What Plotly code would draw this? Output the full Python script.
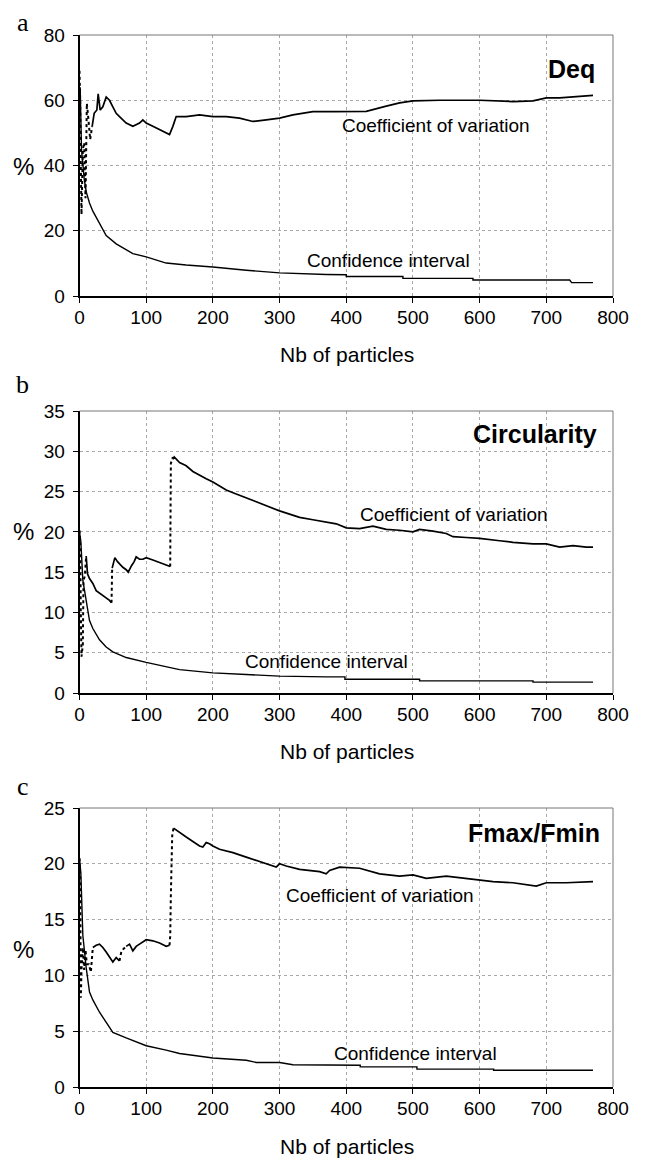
import plotly.graph_objects as go

# page has an 8px body margin; the figure is sized to fill the rest of the window
PAGE_W, PAGE_H = 645, 1161
OFF = 8
W, H = PAGE_W - OFF, PAGE_H - OFF

# ---------------- data ----------------
# Panel a : Deq
a_cv_dot_x = [0, 1, 2, 3, 5, 7, 9, 11, 13, 16, 19]
a_cv_dot_y = [69, 60, 40, 25, 45, 47, 30, 59, 55, 48, 52]
a_cv_x = [19, 22, 26, 28, 31, 35, 40, 45, 50, 55, 60, 70, 80, 90, 95, 100, 110, 120, 130, 135,
          140, 145, 160, 180, 200, 220, 240, 260, 280, 300, 320, 350, 380, 430, 460, 480, 500,
          540, 600, 650, 680, 700, 720, 740, 770]
a_cv_y = [52, 56, 57, 62, 57, 58, 61, 60, 58, 56, 55, 53, 52, 53, 54, 53, 52, 51, 50, 49.5,
          52, 55, 55, 55.5, 55, 55, 54.5, 53.5, 54, 54.5, 55.5, 56.5, 56.5, 56.6, 58.2, 59.2, 59.8,
          60, 60, 59.6, 59.8, 60.7, 60.7, 61, 61.5]
a_ci_x = [1, 2, 3, 5, 7, 10, 15, 20, 30, 40, 55, 80, 100, 130, 160, 200, 250, 300, 370, 400,
          400, 485, 485, 590, 590, 735, 738, 770]
a_ci_y = [64, 52, 45, 40.5, 36, 32, 28.5, 26, 22, 18.5, 16, 13, 12, 10.1, 9.5, 8.9, 7.9, 7.1, 6.6, 6.5,
          6.0, 6.0, 5.4, 5.4, 4.9, 4.9, 4.1, 4.1]

# Panel b : Circularity
b_cv_dot_x = [0, 1, 2, 3, 5, 6, 8, 10, None, 48, 49, None, 136, 137, 140]
b_cv_dot_y = [20.2, 19, 10, 4.5, 6, 14, 14.5, 17, None, 11.2, 15.5, None, 15.7, 28.5, 29.3]
b_cv_x = [10, 12, 15, 20, 25, 30, 35, 40, 45, 48, None,
          49, 53, 57, 60, 65, 70, 73, 78, 82, 85, 90, 95, 100, 110, 120, 130, 136, None,
          140, 142, 150, 160, 170, 180, 190, 200, 210, 220, 235, 250, 265, 280, 300, 315, 330,
          350, 370, 385, 400, 420, 440, 460, 480, 500, 510, 530, 550, 560, 580, 600, 630, 650,
          680, 700, 720, 740, 760, 770]
b_cv_y = [17, 14.8, 14.2, 13.6, 12.7, 12.4, 12, 11.7, 11.5, 11.2, None,
          15.5, 16.8, 16.3, 16, 15.6, 15.3, 15, 15.8, 16.3, 16.9, 16.6, 16.6, 16.8, 16.5, 16.2, 15.9, 15.7, None,
          29, 29.3, 28.6, 28.2, 27.5, 27, 26.6, 26.2, 25.7, 25.2, 24.7, 24.2, 23.7, 23.2, 22.6, 22.2, 21.8,
          21.5, 21.2, 21, 20.5, 20.4, 20.7, 20.3, 20.2, 20, 20.3, 20.1, 19.8, 19.4, 19.3, 19.2, 18.9, 18.7,
          18.5, 18.5, 18.1, 18.3, 18.1, 18.1]
b_ci_x = [0, 2, 5, 10, 15, 20, 30, 40, 50, 70, 100, 150, 200, 250, 300, 370, 398, 398,
          510, 510, 680, 680, 770]
b_ci_y = [20, 18.8, 14, 11.5, 9, 8, 6.6, 5.7, 5.1, 4.4, 3.8, 2.9, 2.5, 2.3, 2.1, 2.0, 2.0, 1.7,
          1.7, 1.5, 1.5, 1.35, 1.35]

# Panel c : Fmax/Fmin
c_cv_dot_x = [0, 1, 2, 3, 5, 7, 9, 11, 14, 17, 20, None, 60, 63, 70, None, 135, 136, 137, 139, 141]
c_cv_dot_y = [20.5, 19, 8, 10.5, 12.5, 10.5, 12.3, 11, 11, 10.3, 12.5, None, 11.3, 12.2, 12.6, None,
              12.7, 13.5, 17.2, 22.5, 23.2]
c_cv_x = [20, 25, 30, 35, 40, 45, 50, 55, 60, None,
          70, 75, 80, 85, 90, 95, 100, 110, 120, 130, 135, None,
          141, 150, 160, 170, 180, 185, 190, 195, 200, 210, 230, 250, 270, 290, 295, 300, 310, 330,
          360, 370, 375, 390, 420, 450, 480, 500, 520, 550, 580, 620, 650, 680, 685, 700, 730, 770]
c_cv_y = [12.5, 12.7, 12.8, 12.5, 12.1, 11.7, 11.2, 11.6, 11.3, None,
          12.6, 12.8, 12.2, 12.6, 12.8, 13.0, 13.2, 13.1, 12.9, 12.6, 12.7, None,
          23.2, 22.8, 22.4, 22.0, 21.6, 21.5, 21.9, 21.8, 21.6, 21.3, 21.0, 20.6, 20.2, 19.8, 19.7, 20.0,
          19.8, 19.5, 19.3, 19.1, 19.4, 19.7, 19.6, 19.1, 18.9, 19.0, 18.7, 18.9, 18.7, 18.4, 18.3, 18.1,
          18.0, 18.3, 18.3, 18.4]
c_ci_x = [0, 1, 2, 5, 10, 15, 20, 30, 40, 50, 70, 100, 130, 150, 200, 250, 265, 300, 320, 380,
          421, 421, 506, 506, 621, 621, 770]
c_ci_y = [20.5, 20, 19.2, 13.6, 10.7, 8.5, 7.8, 6.7, 5.8, 4.9, 4.4, 3.7, 3.3, 3.0, 2.6, 2.4, 2.2, 2.2,
          2.0, 1.95, 1.95, 1.8, 1.8, 1.6, 1.6, 1.5, 1.5]

panel_letters = ["a", "b", "c"]
panel_titles = ["Deq", "Circularity", "Fmax/Fmin"]
y_ranges = [[0, 80], [0, 35], [0, 25]]
y_dticks = [20, 5, 5]
x_label = "Nb of particles"
y_label = "%"
cv_label = "Coefficient of variation"
ci_label = "Confidence interval"

# ---------------- layout helpers ----------------
SANS = "Liberation Sans, Arial, sans-serif"
SERIF = "Liberation Serif, Times New Roman, serif"


def px(x):
    return (x - OFF) / W


def py(y):
    return 1 - (y - OFF) / H


# plot areas in page pixels: (top, bottom)
x_left, x_right = 79.5, 613
panels_px = [(35, 296), (411, 693), (808, 1087)]

fig = go.Figure()

data = [
    (a_cv_dot_x, a_cv_dot_y, a_cv_x, a_cv_y, a_ci_x, a_ci_y),
    (b_cv_dot_x, b_cv_dot_y, b_cv_x, b_cv_y, b_ci_x, b_ci_y),
    (c_cv_dot_x, c_cv_dot_y, c_cv_x, c_cv_y, c_ci_x, c_ci_y),
]

for i, (dx, dy, cx, cy, ix, iy) in enumerate(data):
    xa = "x" if i == 0 else f"x{i+1}"
    ya = "y" if i == 0 else f"y{i+1}"
    fig.add_trace(go.Scatter(x=ix, y=iy, mode="lines", xaxis=xa, yaxis=ya,
                             line=dict(color="black", width=1.4), connectgaps=False))
    fig.add_trace(go.Scatter(x=dx, y=dy, mode="lines", xaxis=xa, yaxis=ya,
                             line=dict(color="black", width=2, dash="dot"), connectgaps=False))
    fig.add_trace(go.Scatter(x=cx, y=cy, mode="lines", xaxis=xa, yaxis=ya,
                             line=dict(color="black", width=1.7), connectgaps=False))

layout = dict(width=W, height=H, margin=dict(l=0, r=0, t=0, b=0, autoexpand=False),
              template="none",
              paper_bgcolor="white", plot_bgcolor="white", showlegend=False,
              font=dict(family=SANS, color="black"))

annotations = []
shapes = []
for i, (top, bot) in enumerate(panels_px):
    xk = "xaxis" if i == 0 else f"xaxis{i+1}"
    yk = "yaxis" if i == 0 else f"yaxis{i+1}"
    anchor_y = "y" if i == 0 else f"y{i+1}"
    anchor_x = "x" if i == 0 else f"x{i+1}"
    layout[xk] = dict(domain=[px(x_left), px(x_right)], anchor=anchor_y, range=[0, 800], dtick=100,
                      tick0=0, showgrid=True, gridcolor="#a8a8a8", griddash="dot", gridwidth=1,
                      zeroline=False, showline=True, linecolor="black", linewidth=1.6,
                      ticks="outside", ticklen=5, tickcolor="black", tickwidth=1.2, automargin=False,
                      ticklabelstandoff=-2,
                      tickfont=dict(size=19, family=SANS, color="black"))
    layout[yk] = dict(domain=[py(bot), py(top)], anchor=anchor_x, range=y_ranges[i], dtick=y_dticks[i],
                      tick0=0, showgrid=True, gridcolor="#a8a8a8", griddash="dot", gridwidth=1,
                      zeroline=False, showline=True, linecolor="black", linewidth=1.6,
                      ticks="outside", ticklen=5, tickcolor="black", tickwidth=1.2, automargin=False,
                      ticklabelstandoff=4,
                      tickfont=dict(size=19, family=SANS, color="black"))
    # top and right frame lines (gray)
    shapes.append(dict(type="line", xref="paper", yref="paper", x0=px(x_left), x1=px(x_right),
                       y0=py(top), y1=py(top), line=dict(color="#777777", width=1)))
    shapes.append(dict(type="line", xref="paper", yref="paper", x0=px(x_right), x1=px(x_right),
                       y0=py(top), y1=py(bot), line=dict(color="#777777", width=1)))

# text positions in page pixels
letter_pos = [(22.5, 23), (22.5, 384), (22.5, 786)]
title_pos = [(597, 69), (599, 434), (602, 832.5)]
pct_pos = [(23, 166), (23, 531), (23, 949)]
xlab_pos = [(346.5, 354), (346.5, 751), (346.5, 1146)]
cv_pos = [(340, 125.5), (358, 515), (284, 895.5)]
ci_pos = [(305, 260), (243, 661.5), (332, 1053.5)]

for i in range(3):
    annotations.append(dict(text=panel_letters[i], x=px(letter_pos[i][0]), y=py(letter_pos[i][1]),
                            xref="paper", yref="paper", showarrow=False, xanchor="center", yanchor="middle",
                            font=dict(family=SERIF, size=26, color="black")))
    annotations.append(dict(text="<b>" + panel_titles[i] + "</b>", x=px(title_pos[i][0]), y=py(title_pos[i][1]),
                            xref="paper", yref="paper", showarrow=False, xanchor="right", yanchor="middle",
                            font=dict(family=SANS, size=25, color="black")))
    annotations.append(dict(text=y_label, x=px(pct_pos[i][0]), y=py(pct_pos[i][1]),
                            xref="paper", yref="paper", showarrow=False, xanchor="center", yanchor="middle",
                            font=dict(family=SANS, size=24, color="black")))
    annotations.append(dict(text=x_label, x=px(xlab_pos[i][0]), y=py(xlab_pos[i][1]),
                            xref="paper", yref="paper", showarrow=False, xanchor="center", yanchor="middle",
                            font=dict(family=SANS, size=21, color="black")))
    annotations.append(dict(text=cv_label, x=px(cv_pos[i][0]), y=py(cv_pos[i][1]),
                            xref="paper", yref="paper", showarrow=False, xanchor="left", yanchor="middle",
                            font=dict(family=SANS, size=19, color="black")))
    annotations.append(dict(text=ci_label, x=px(ci_pos[i][0]), y=py(ci_pos[i][1]),
                            xref="paper", yref="paper", showarrow=False, xanchor="left", yanchor="middle",
                            font=dict(family=SANS, size=19, color="black")))

layout["annotations"] = annotations
layout["shapes"] = shapes
fig.update_layout(**layout)

fig.write_html("out.html")
